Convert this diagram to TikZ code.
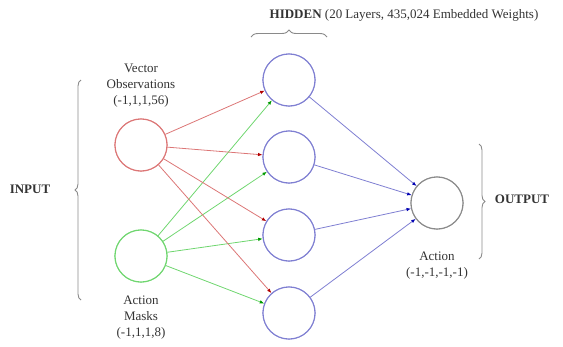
\documentclass[tikz,border=0pt]{standalone}
\usepackage{fontspec}
\setmainfont{Liberation Serif}
\usetikzlibrary{arrows.meta,decorations.pathreplacing}
\definecolor{redc}{HTML}{DC7676}
\definecolor{greenc}{HTML}{6FD66F}
\definecolor{bluec}{HTML}{7F7FD2}
\definecolor{grayc}{HTML}{8A8A8A}
\definecolor{txt}{HTML}{333333}
\tikzset{
  neuron/.style={circle, minimum size=52pt, inner sep=0pt, line width=1.1pt, fill=white},
  inred/.style={neuron, draw=redc},
  ingreen/.style={neuron, draw=greenc},
  hid/.style={neuron, draw=bluec},
  outn/.style={neuron, draw=grayc},
  conn/.style={line width=0.8pt, -{Latex[length=4.5pt,width=3.5pt]}},
  lbl/.style={align=center, text=txt, font=\fontsize{13}{16}\selectfont},
  bigbrace/.style={draw=grayc, line width=0.9pt, decorate, decoration={brace, amplitude=6pt}},
}
\begin{document}
\begin{tikzpicture}[x=1pt,y=-1pt]
\useasboundingbox (0,0) rectangle (563,346);
% nodes
\node[inred] (vo) at (141,145) {};
\node[ingreen] (am) at (141,256) {};
\node[hid] (h1) at (289,80) {};
\node[hid] (h2) at (289,157) {};
\node[hid] (h3) at (289,235) {};
\node[hid] (h4) at (289,313) {};
\node[outn] (out) at (437,203) {};
% connectors
\foreach \h in {h1,h2,h3,h4} {
  \draw[conn, draw=redc, -{Latex[length=4.5pt,width=3.5pt,color=red!70!black]}] (vo) -- (\h);
  \draw[conn, draw=greenc, -{Latex[length=4.5pt,width=3.5pt,color=green!60!black]}] (am) -- (\h);
  \draw[conn, draw=bluec, -{Latex[length=4.5pt,width=3.5pt,color=blue!70!black]}] (\h) -- (out);
}
% redraw circles on top
\node[inred] at (vo) {};
\node[ingreen] at (am) {};
\node[hid] at (h1) {};
\node[hid] at (h2) {};
\node[hid] at (h3) {};
\node[hid] at (h4) {};
\node[outn] at (out) {};
% labels
\node[lbl] (vol) at (141,86) {Vector\\Observations\\(-1,1,1,56)};
\node[lbl] (aml) at (141,318) {Action\\Masks\\(-1,1,1,8)};
\node[lbl] (outl) at (437,266) {Action\\(-1,-1,-1,-1)};
\node[lbl] (title) at (404,15) {\textbf{HIDDEN} (20 Layers, 435,024 Embedded Weights)};
\node[lbl] (inp) at (30,189) {\textbf{INPUT}};
\node[lbl] (outp) at (522,199) {\textbf{OUTPUT}};
% braces
\coordinate (ib1) at (81,300);
\coordinate (ib2) at (81,80);
\draw[bigbrace] (ib1) -- (ib2);
\coordinate (hb1) at (251,37);
\coordinate (hb2) at (327,37);
\draw[bigbrace, decoration={brace, amplitude=7pt}] (hb1) -- (hb2);
\coordinate (ob1) at (479,144);
\coordinate (ob2) at (479,259);
\draw[bigbrace] (ob1) -- (ob2);
\end{tikzpicture}
\end{document}
